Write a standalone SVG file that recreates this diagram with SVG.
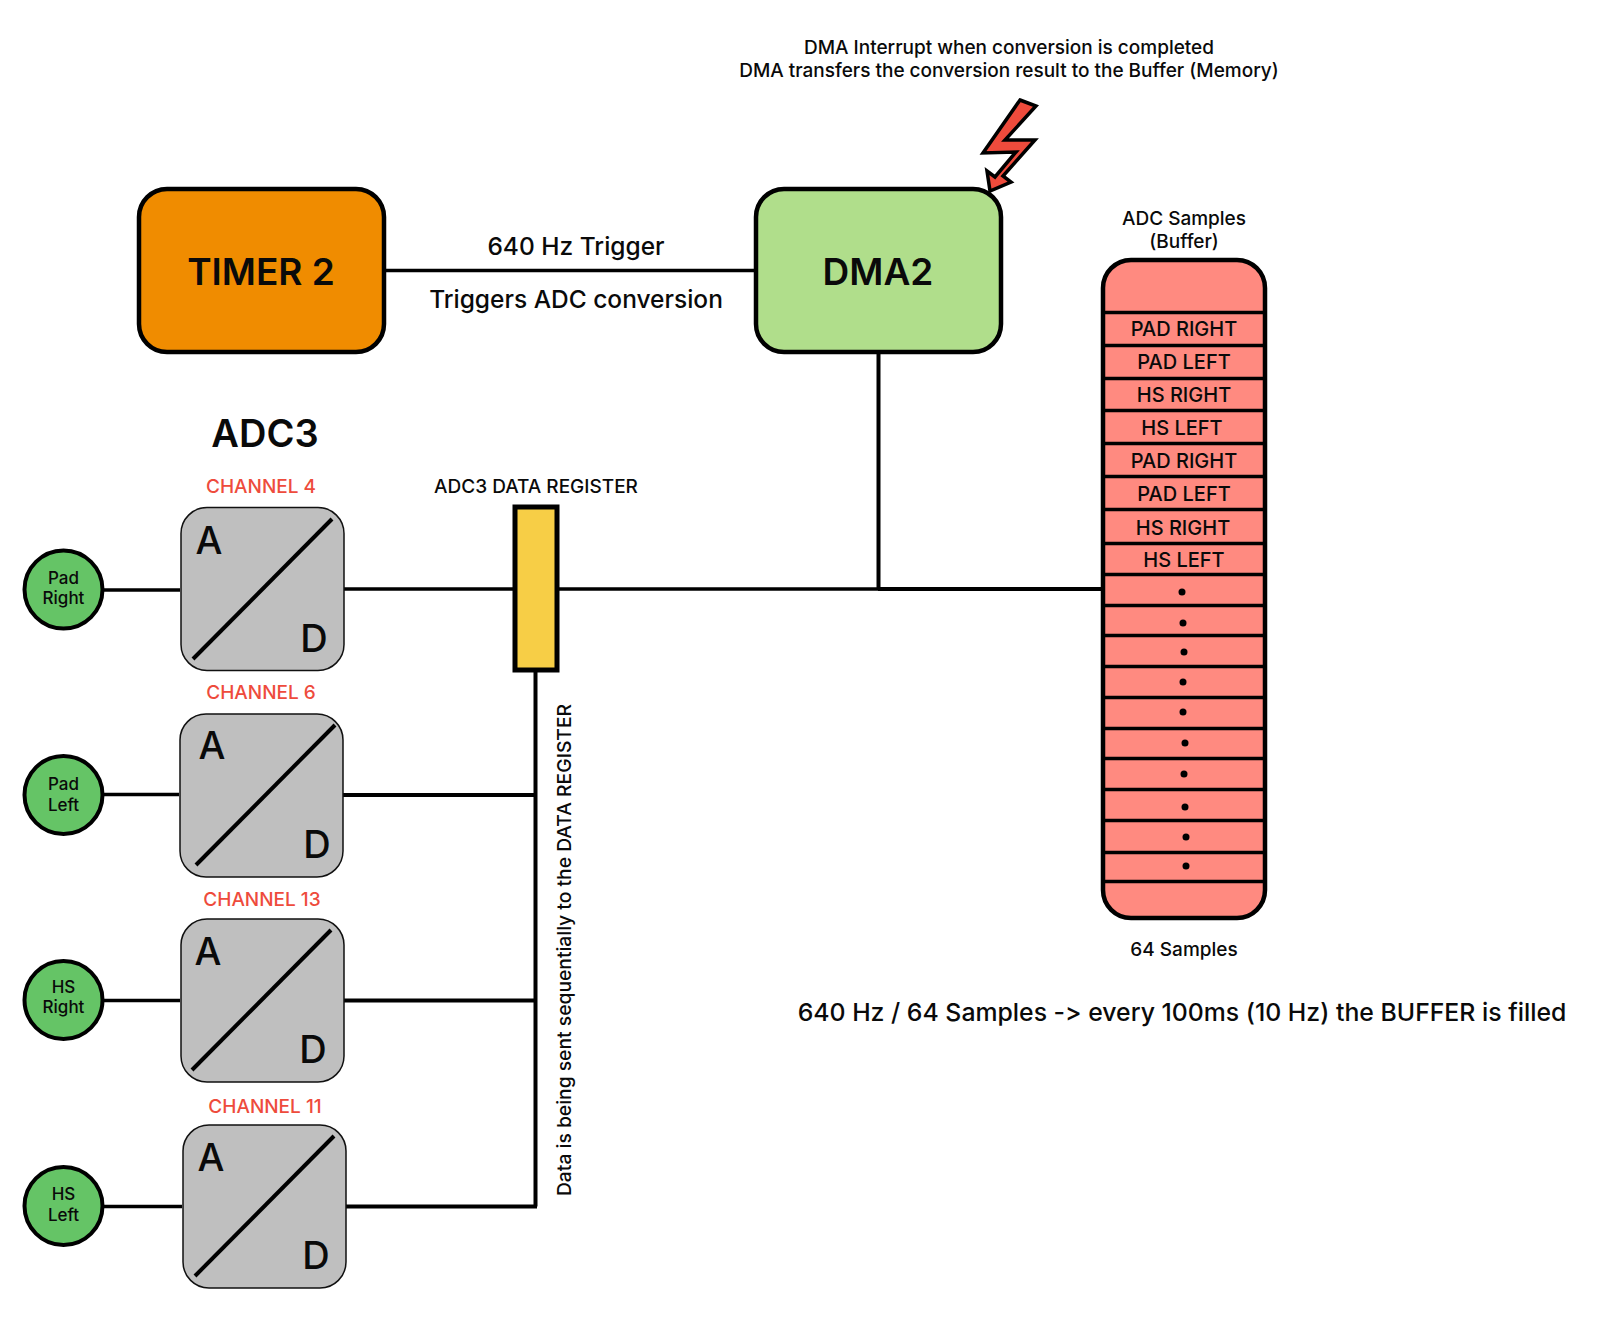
<svg xmlns="http://www.w3.org/2000/svg" width="1617" height="1325" viewBox="0 0 1617 1325">
<style>
text{font-family:Inter,"Noto Sans","Liberation Sans",sans-serif;fill:#0a0a0a;text-anchor:middle;font-feature-settings:"calt" 0,"liga" 0}
.big{font-size:37px;font-weight:600}
.mid{font-size:24.500px;font-weight:500}
.sm{font-size:19px;font-weight:500}
.cell{font-size:20px;font-weight:500}
.ch{font-size:19px;font-weight:500;fill:#ee4b3c}
.ad{font-size:38px;font-weight:550}
.pin{font-size:17px;font-weight:500}
.conv{fill:#bfbfbf;stroke:#111;stroke-width:1.5}
.diag{stroke:#000;stroke-width:4;fill:none}
.pinc{fill:#65c466;stroke:#000;stroke-width:4}
.wire{stroke:#000;stroke-width:3.500;fill:none}
.wire2{stroke:#000;stroke-width:4;fill:none}
.row{stroke:#000;stroke-width:3.500;fill:none}
</style>
<rect width="1617" height="1325" fill="#fff"/>
<g id="connectors">
<path class="wire" d="M384 270.500H755"/>
<path class="wire2" d="M878.500 352V589"/>
<path class="wire" d="M558 589H878"/>
<path class="wire2" d="M878 589H1102"/>
<path class="wire" d="M344 589H514"/>
<path class="wire2" d="M535.500 670V1206.500"/>
<path class="wire2" d="M343 795H535"/>
<path class="wire2" d="M343 1000.500H535"/>
<path class="wire2" d="M345 1206.500H537"/>
<path class="wire" d="M103 590H180"/>
<path class="wire" d="M103 794.500H179"/>
<path class="wire" d="M103 1000.500H180"/>
<path class="wire" d="M103 1206.500H182"/>
</g>
<g id="timer2"><rect x="139" y="189" width="245" height="163" rx="28" fill="#f08c00" stroke="#000" stroke-width="4.500"/><text class="big" x="261" y="285">TIMER 2</text></g>
<g id="dma2"><rect x="756" y="189" width="245" height="163" rx="28" fill="#b0de8b" stroke="#000" stroke-width="4.500"/><text class="big" x="878" y="285">DMA2</text></g>
<g id="trigger-labels"><text class="mid" x="576" y="255">640 Hz Trigger</text><text class="mid" x="576" y="308">Triggers ADC conversion</text></g>
<g id="dma-note"><text class="sm" x="1009" y="54">DMA Interrupt when conversion is completed</text><text class="sm" x="1009" y="77">DMA transfers the conversion result to the Buffer (Memory)</text></g>
<g id="bolt"><path d="M1020 100L1036 106L1005 140L1035 140L1003 176L1011 182L990 191L987 171L995 177L1016 152L983 153Z" fill="#ee4b3c" stroke="#000" stroke-width="3.500" stroke-linejoin="miter"/></g>
<g id="buffer">
<text class="sm" x="1184" y="225">ADC Samples</text><text class="sm" x="1184" y="248">(Buffer)</text>
<rect x="1103" y="260" width="162" height="658" rx="28" fill="#ff8a80" stroke="#000" stroke-width="4.500"/>
<path class="row" d="M1103 312.500H1265M1103 345.500H1265M1103 378.500H1265M1103 410.500H1265M1103 443.500H1265M1103 476.500H1265M1103 509.500H1265M1103 543.500H1265M1103 574.500H1265M1103 605.500H1265M1103 635.500H1265M1103 666.500H1265M1103 697.500H1265M1103 728.500H1265M1103 758.500H1265M1103 789.500H1265M1103 820.500H1265M1103 852.500H1265M1103 881.500H1265"/>
<text class="cell" x="1184" y="336">PAD RIGHT</text><text class="cell" x="1184" y="369">PAD LEFT</text><text class="cell" x="1184" y="402">HS RIGHT</text><text class="cell" x="1182" y="435">HS LEFT</text><text class="cell" x="1184" y="468">PAD RIGHT</text><text class="cell" x="1184" y="501">PAD LEFT</text><text class="cell" x="1183" y="535">HS RIGHT</text><text class="cell" x="1184" y="567">HS LEFT</text>
<g fill="#000"><circle cx="1182" cy="592" r="3.500"/><circle cx="1183" cy="623" r="3.500"/><circle cx="1184" cy="652" r="3.500"/><circle cx="1183" cy="682" r="3.500"/><circle cx="1183" cy="712" r="3.500"/><circle cx="1185" cy="743" r="3.500"/><circle cx="1184" cy="774" r="3.500"/><circle cx="1185" cy="807" r="3.500"/><circle cx="1186" cy="837" r="3.500"/><circle cx="1186" cy="866" r="3.500"/></g>
<text class="sm" x="1184" y="956">64 Samples</text>
</g>
<g id="summary"><text class="mid" style="font-size:24.800px" x="1182" y="1021">640 Hz / 64 Samples -&gt; every 100ms (10 Hz) the BUFFER is filled</text></g>
<g id="adc3-title"><text x="265" y="447" style="font-size:38px;font-weight:600">ADC3</text></g>
<g id="register"><text class="sm" x="536" y="493">ADC3 DATA REGISTER</text><rect x="515" y="507" width="42" height="163" fill="#f7ce46" stroke="#000" stroke-width="5"/></g>
<g id="seq-label"><text class="sm" style="font-size:19.300px" transform="translate(571 950) rotate(-90)">Data is being sent sequentially to the DATA REGISTER</text></g>
<g id="adc-ch4"><text class="ch" x="261" y="493">CHANNEL 4</text><rect class="conv" x="181" y="507.500" width="163" height="163" rx="26"/><path class="diag" d="M193 659L332 519"/><text class="ad" x="209" y="554">A</text><text class="ad" x="314" y="652">D</text></g>
<g id="adc-ch6"><text class="ch" x="261" y="699">CHANNEL 6</text><rect class="conv" x="180" y="714" width="163" height="163" rx="26"/><path class="diag" d="M196 865L335 725"/><text class="ad" x="212" y="759">A</text><text class="ad" x="317" y="858">D</text></g>
<g id="adc-ch13"><text class="ch" x="262" y="906">CHANNEL 13</text><rect class="conv" x="181" y="919" width="163" height="163" rx="26"/><path class="diag" d="M192 1070L331 930"/><text class="ad" x="208" y="965">A</text><text class="ad" x="313" y="1063">D</text></g>
<g id="adc-ch11"><text class="ch" x="265" y="1113">CHANNEL 11</text><rect class="conv" x="183" y="1125" width="163" height="163" rx="26"/><path class="diag" d="M195 1276L334 1136"/><text class="ad" x="211" y="1171">A</text><text class="ad" x="316" y="1269">D</text></g>
<g id="pin-pad-right"><circle class="pinc" cx="63.500" cy="589.500" r="39"/><text class="pin" x="63.500" y="584">Pad</text><text class="pin" x="63.500" y="604">Right</text></g>
<g id="pin-pad-left"><circle class="pinc" cx="63.500" cy="795" r="39"/><text class="pin" x="63.500" y="790">Pad</text><text class="pin" x="63.500" y="811">Left</text></g>
<g id="pin-hs-right"><circle class="pinc" cx="63.500" cy="1000" r="39"/><text class="pin" x="63.500" y="993">HS</text><text class="pin" x="63.500" y="1013">Right</text></g>
<g id="pin-hs-left"><circle class="pinc" cx="63.500" cy="1206" r="39"/><text class="pin" x="63.500" y="1200">HS</text><text class="pin" x="63.500" y="1221">Left</text></g>
</svg>
